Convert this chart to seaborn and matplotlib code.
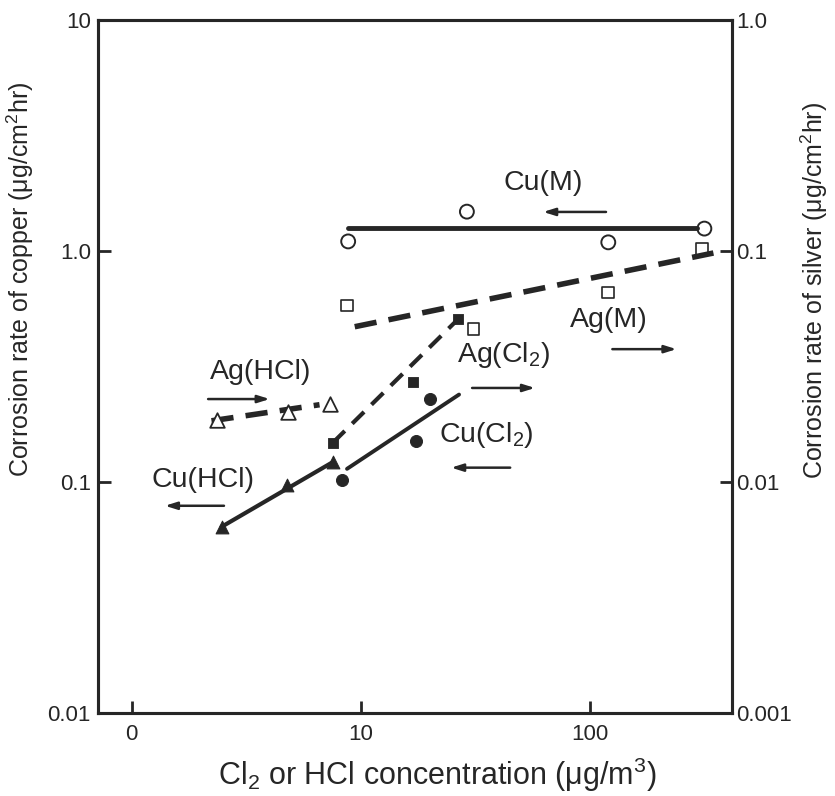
import matplotlib
matplotlib.use("Agg")
import matplotlib.pyplot as plt
import pandas as pd
import seaborn as sns

# values: x = concentration (ug/m3),
# copper rates on the left axis, silver rates on the right axis
cu_m_x = [8.8, 29.0, 120.0, 315.0]
cu_m_y = [1.10, 1.48, 1.09, 1.25]
cu_m_fit_x = [8.8, 293.0]
cu_m_fit_y = [1.26, 1.26]

ag_m_x = [8.7, 31.0, 120.0, 308.0]
ag_m_y = [0.058, 0.046, 0.066, 0.102]
ag_m_fit_x = [9.4, 345.0]
ag_m_fit_y = [0.047, 0.098]

ag_cl2_x = [7.55, 16.9, 26.5]
ag_cl2_y = [0.0148, 0.0272, 0.0506]

cu_cl2_x = [8.26, 17.4, 20.0]
cu_cl2_y = [0.102, 0.151, 0.229]
cu_cl2_fit_x = [8.7, 26.8]
cu_cl2_fit_y = [0.114, 0.239]

cu_hcl_x = [2.47, 4.75, 7.55]
cu_hcl_y = [0.064, 0.097, 0.122]

ag_hcl_x = [2.35, 4.8, 7.33]
ag_hcl_y = [0.0186, 0.0201, 0.0218]
ag_hcl_fit_x = [2.23, 6.6]
ag_hcl_fit_y = [0.0184, 0.0216]

x_ticks = [1, 10, 100]
x_tick_labels = ["0", "10", "100"]
left_ticks = [0.01, 0.1, 1.0, 10]
left_tick_labels = ["0.01", "0.1", "1.0", "10"]
right_ticks = [0.001, 0.01, 0.1, 1.0]
right_tick_labels = ["0.001", "0.01", "0.1", "1.0"]

sns.set_style("ticks")
plt.rcParams["font.family"] = ["Liberation Sans", "DejaVu Sans"]
plt.rcParams["mathtext.default"] = "regular"
ink = "#262626"

fig = plt.figure(figsize=(8.35, 7.96), dpi=100)
ax = fig.add_axes([0.117, 0.1043, 0.760, 0.8706])
ax2 = ax.twinx()

for a in (ax, ax2):
    a.set_xscale("log")
    a.set_yscale("log")

# copper, left axis
sns.lineplot(x=cu_m_fit_x, y=cu_m_fit_y, ax=ax, color=ink, lw=3.5)
sns.scatterplot(x=cu_m_x, y=cu_m_y, ax=ax, marker="o", s=100,
                facecolors="none", edgecolors=ink, linewidths=1.4)
sns.lineplot(x=cu_cl2_fit_x, y=cu_cl2_fit_y, ax=ax, color=ink, lw=2.8)
sns.scatterplot(x=cu_cl2_x, y=cu_cl2_y, ax=ax, marker="o", s=75,
                color=ink, edgecolor=ink)
sns.lineplot(x=[cu_hcl_x[0], cu_hcl_x[-1]], y=[cu_hcl_y[0], cu_hcl_y[-1]],
             ax=ax, color=ink, lw=3)
sns.scatterplot(x=cu_hcl_x, y=cu_hcl_y, ax=ax, marker="^", s=85,
                color=ink, edgecolor=ink)

# silver, right axis
sns.lineplot(x=ag_m_fit_x, y=ag_m_fit_y, ax=ax2, color=ink, lw=4,
             linestyle=(0, (4, 2.2)))
sns.scatterplot(x=ag_m_x, y=ag_m_y, ax=ax2, marker="s", s=70,
                facecolors="none", edgecolors=ink, linewidths=1.2)
sns.lineplot(x=[ag_cl2_x[0], ag_cl2_x[-1]], y=[ag_cl2_y[0], ag_cl2_y[-1]],
             ax=ax2, color=ink, lw=3, linestyle=(0, (4, 2.5)))
sns.scatterplot(x=ag_cl2_x, y=ag_cl2_y, ax=ax2, marker="s", s=60,
                color=ink, edgecolor=ink)
sns.lineplot(x=ag_hcl_fit_x, y=ag_hcl_fit_y, ax=ax2, color=ink, lw=4,
             linestyle=(0, (4, 2.2)))
sns.scatterplot(x=ag_hcl_x, y=ag_hcl_y, ax=ax2, marker="^", s=110,
                facecolors="white", edgecolors=ink, linewidths=1.3, zorder=3)

ax.set_xlim(0.711, 417)
ax.set_ylim(0.01, 10)
ax2.set_ylim(0.001, 1)

ax.set_xticks(x_ticks)
ax.set_xticklabels(x_tick_labels)
ax.set_yticks(left_ticks)
ax.set_yticklabels(left_tick_labels)
ax2.set_yticks(right_ticks)
ax2.set_yticklabels(right_tick_labels)
ax.minorticks_off()
ax2.minorticks_off()

ax.tick_params(axis="both", direction="in", length=9, width=2, colors=ink,
               labelsize=16, pad=8)
ax.tick_params(axis="y", pad=5)
ax2.tick_params(axis="y", direction="in", length=9, width=2, colors=ink,
                labelsize=16, pad=3)
for a in (ax, ax2):
    for sp in a.spines.values():
        sp.set_visible(True)
        sp.set_linewidth(2.2)
        sp.set_color(ink)

ax.set_xlabel("Cl$_2$ or HCl concentration (μg/m$^3$)", fontsize=22, color=ink)
ax.xaxis.set_label_coords(0.536, -0.061)
ax.set_ylabel("Corrosion rate of copper (μg/cm$^2$hr)", fontsize=18, color=ink)
ax.yaxis.set_label_coords(-0.097, 0.625)
ax2.set_ylabel("Corrosion rate of silver (μg/cm$^2$hr)", fontsize=18,
               color=ink, rotation=90)
ax2.yaxis.set_label_coords(1.105, 0.61)

# curve labels with arrows pointing to their axis
labels = [
    ("Cu(M)", 0.702, 0.765, 0.801, 0.702, 0.723),
    ("Ag(M)", 0.806, 0.567, 0.811, 0.912, 0.525),
    ("Ag(Cl$_2$)", 0.639, 0.517, 0.590, 0.689, 0.469),
    ("Cu(Cl$_2$)", 0.612, 0.401, 0.650, 0.557, 0.354),
    ("Ag(HCl)", 0.256, 0.492, 0.174, 0.271, 0.453),
    ("Cu(HCl)", 0.166, 0.336, 0.199, 0.106, 0.299),
]
for text, tx, ty, x0, x1, ay in labels:
    ax.text(tx, ty, text, transform=ax.transAxes, fontsize=20.5, color=ink,
            ha="center", va="center")
    ax.annotate("", xy=(x1, ay), xytext=(x0, ay), xycoords="axes fraction",
                arrowprops=dict(arrowstyle="-|>,head_length=0.7,head_width=0.22",
                                lw=1.8, color=ink, shrinkA=0, shrinkB=0))

fig.savefig("out.png", dpi=100, facecolor="white")
